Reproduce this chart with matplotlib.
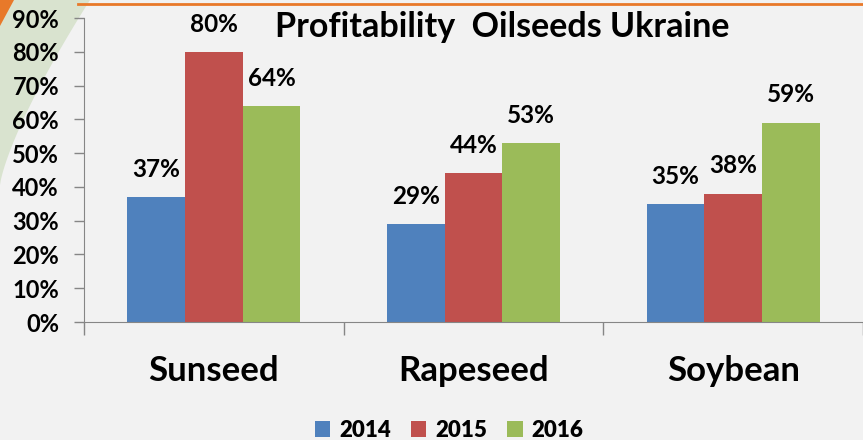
import matplotlib.pyplot as plt
import numpy as np
from matplotlib.patches import Polygon, Patch
from matplotlib.font_manager import FontProperties

plt.rcParams['font.family'] = ['Lato', 'DejaVu Sans']
plt.rcParams['font.weight'] = 'bold'

crops = ['Sunseed', 'Rapeseed', 'Soybean']
years = ['2014', '2015', '2016']
v2014 = [37, 29, 35]
v2015 = [80, 44, 38]
v2016 = [64, 53, 59]
colors = ['#4f81bd', '#c0504d', '#9bbb59']
bg = '#f2f2f2'

W, H = 863, 440
fig = plt.figure(figsize=(W / 100, H / 100), dpi=100, facecolor=bg)

# slide decoration: green swoosh, orange corner and line
t = np.linspace(0, 1, 40)
gx = 90 * (1 - t) ** 1.3
gy = 185 * t
pts = [(0, 1)] + [(xx / W, 1 - yy / H) for xx, yy in zip(gx, gy)]
fig.patches.append(Polygon(pts, closed=True, transform=fig.transFigure,
                           facecolor='#d9e3cf', edgecolor='none', zorder=-2))
fig.patches.append(Polygon([(0, 1), (14 / W, 1), (0, 1 - 26 / H)], closed=True,
                           transform=fig.transFigure, facecolor='#e8792a',
                           edgecolor='none', zorder=-1))
fig.lines.append(plt.Line2D([78 / W, 1], [1 - 4 / H, 1 - 4 / H], transform=fig.transFigure,
                            color='#e8792a', lw=2, zorder=-1))

ax = fig.add_axes([84 / W, 1 - 322 / H, (W - 84) / W, (322 - 18) / H])
ax.set_facecolor('none')

x = np.arange(len(crops))
w = 0.222
for i, (vals, c) in enumerate(zip([v2014, v2015, v2016], colors)):
    pos = x + (i - 1) * w
    ax.bar(pos, np.array(vals) / 100, width=w, color=c, label=years[i], zorder=2)
    for p, v in zip(pos, vals):
        ax.text(p, v / 100 + 0.048, f'{v}%', ha='center', va='bottom',
                fontsize=17.5, fontweight='bold')

ax.set_xlim(-0.5, 2.5)
ax.set_ylim(0, 0.9)
ax.set_yticks(np.arange(0, 0.91, 0.1))
ax.set_yticklabels([f'{int(round(v * 100))}%' for v in np.arange(0, 0.91, 0.1)],
                   fontsize=17, fontweight='bold')
ax.set_xticks([-0.5, 0.5, 1.5, 2.5])
ax.set_xticklabels([])
ax.tick_params(axis='x', length=9, color='#868686', width=1)
ax.tick_params(axis='y', length=7, color='#868686', width=1, pad=11)
for s in ['top', 'right']:
    ax.spines[s].set_visible(False)
for s in ['left', 'bottom']:
    ax.spines[s].set_color('#868686')
for xi, name in zip(x, crops):
    ax.text(xi, -0.145, name, ha='center', va='center', fontsize=25,
            fontweight='bold', clip_on=False)

fig.text(502 / W, 1 - 27 / H, 'Profitability  Oilseeds Ukraine', ha='center',
         va='center', fontsize=24.5, fontweight='bold')

handles = [Patch(facecolor=c, label=y) for c, y in zip(colors, years)]
legfont = FontProperties(family=['Lato', 'DejaVu Sans'], weight='heavy', size=16)
leg = fig.legend(handles=handles, loc='center', bbox_to_anchor=(449 / W, 1 - 430 / H),
                 ncol=3, frameon=False, prop=legfont,
                 handlelength=0.7, handleheight=0.7, handletextpad=0.4, columnspacing=0.9)

fig.savefig('out.png', dpi=100, facecolor=bg)
